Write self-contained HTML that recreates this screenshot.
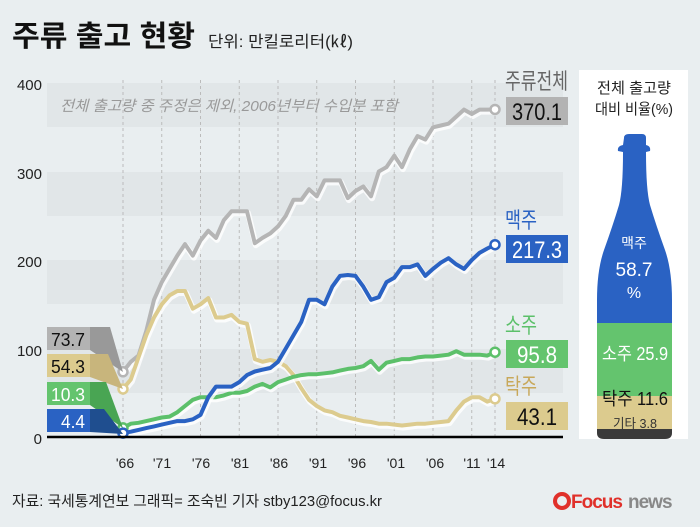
<!DOCTYPE html>
<html><head><meta charset="utf-8"><style>
body{margin:0;width:700px;height:527px;background:#e9eef0;overflow:hidden;font-family:"Liberation Sans","Noto Sans CJK KR",sans-serif;}
svg{position:absolute;left:0;top:0}
</style></head><body>
<svg id="s" width="700" height="527" xmlns="http://www.w3.org/2000/svg" font-family="Liberation Sans, Noto Sans CJK KR, sans-serif">
<text x="12" y="46" font-size="29" font-weight="bold" fill="#111" textLength="183" lengthAdjust="spacingAndGlyphs">주류 출고 현황</text>
<text x="208" y="47" font-size="16" fill="#222" textLength="145" lengthAdjust="spacingAndGlyphs">단위: 만킬로리터(㎘)</text>
<g fill="#e1e6e8">
<rect x="47" y="83" width="516" height="44"/>
<rect x="47" y="172" width="516" height="44"/>
<rect x="47" y="260" width="516" height="44"/>
<rect x="47" y="349" width="516" height="44"/>
</g>
<text x="60" y="111" font-size="15" font-style="italic" fill="#999" textLength="338" lengthAdjust="spacingAndGlyphs">전체 출고량 중 주정은 제외, 2006년부터 수입분 포함</text>
<g font-size="15" fill="#222" text-anchor="end">
<text x="42" y="90">400</text><text x="42" y="179">300</text><text x="42" y="267">200</text><text x="42" y="356">100</text><text x="42" y="444">0</text>
</g>
<g id="grid" stroke="#bbb" stroke-dasharray="3,3" stroke-width="1"></g>
<g id="lines"></g>
<line x1="47" y1="437" x2="563" y2="437" stroke="#000" stroke-width="2.5"/>
<g font-size="14" fill="#222" text-anchor="middle">
<text x="125" y="468">'66</text><text x="162" y="468">'71</text><text x="201" y="468">'76</text><text x="240" y="468">'81</text><text x="279" y="468">'86</text><text x="318" y="468">'91</text><text x="357" y="468">'96</text><text x="396" y="468">'01</text><text x="435" y="468">'06</text><text x="472" y="468">'11</text><text x="496" y="468">'14</text>
</g>
<polygon points="90,327 110,327 123,372 90,350" fill="#999"/>
<rect x="47" y="327" width="43" height="23" fill="#b3b3b3"/>
<text x="51" y="346" font-size="18" fill="#111" textLength="34" lengthAdjust="spacingAndGlyphs">73.7</text>
<polygon points="90,354 108,354 123,389 90,377" fill="#c8b57c"/>
<rect x="47" y="354" width="43" height="23" fill="#dccb8e"/>
<text x="51" y="373" font-size="18" fill="#111" textLength="34" lengthAdjust="spacingAndGlyphs">54.3</text>
<polygon points="90,382 106,382 123,428 90,405" fill="#49a553"/>
<rect x="47" y="382" width="43" height="23" fill="#64c46e"/>
<text x="51" y="401" font-size="18" fill="#fff" textLength="34" lengthAdjust="spacingAndGlyphs">10.3</text>
<polygon points="90,409 104,409 123,434 90,432" fill="#1f4e8f"/>
<rect x="47" y="409" width="43" height="23" fill="#2a62c3"/>
<text x="61" y="428" font-size="18" fill="#fff" textLength="24" lengthAdjust="spacingAndGlyphs">4.4</text>
<text x="505" y="89" font-size="22" fill="#666" textLength="63" lengthAdjust="spacingAndGlyphs">주류전체</text>
<rect x="506" y="97" width="62" height="28" fill="#b3b3b3"/>
<text x="537" y="120" font-size="24" fill="#111" text-anchor="middle" textLength="50" lengthAdjust="spacingAndGlyphs">370.1</text>
<text x="505" y="228" font-size="22" fill="#2a62c3" textLength="32" lengthAdjust="spacingAndGlyphs">맥주</text>
<rect x="506" y="235" width="62" height="28" fill="#2a62c3"/>
<text x="537" y="258" font-size="24" fill="#fff" text-anchor="middle" textLength="50" lengthAdjust="spacingAndGlyphs">217.3</text>
<text x="505" y="333" font-size="22" fill="#5cc06a" textLength="32" lengthAdjust="spacingAndGlyphs">소주</text>
<rect x="506" y="340" width="62" height="28" fill="#64c46e"/>
<text x="537" y="363" font-size="24" fill="#fff" text-anchor="middle" textLength="40" lengthAdjust="spacingAndGlyphs">95.8</text>
<text x="505" y="394" font-size="22" fill="#c8a85a" textLength="32" lengthAdjust="spacingAndGlyphs">탁주</text>
<rect x="506" y="402" width="62" height="28" fill="#dccb8e"/>
<text x="537" y="425" font-size="24" fill="#111" text-anchor="middle" textLength="40" lengthAdjust="spacingAndGlyphs">43.1</text>
<rect x="579" y="70" width="109" height="369" fill="#fff"/>
<text x="634" y="93" font-size="15" fill="#222" text-anchor="middle" textLength="74" lengthAdjust="spacingAndGlyphs">전체 출고량</text>
<text x="634" y="114" font-size="15" fill="#222" text-anchor="middle" textLength="78" lengthAdjust="spacingAndGlyphs">대비 비율(%)</text>
<clipPath id="bc"><path d="M624,138 Q624,134 629,134 L642,134 Q646,134 646,138 L646,145 Q651,146 650,151 L646,152 Q646,190 650,205 Q656,225 665,250 Q672,270 672,300 L672,433 Q672,439 665,439 L604,439 Q597,439 597,433 L597,300 Q597,270 604,250 Q613,225 619,205 Q623,190 623,152 L618,151 Q617,146 623,145 Z"/></clipPath>
<g clip-path="url(#bc)">
<rect x="590" y="125" width="90" height="198" fill="#2a62c3"/>
<rect x="590" y="323" width="90" height="73" fill="#64c46e"/>
<rect x="590" y="396" width="90" height="33" fill="#dccb8e"/>
<rect x="590" y="429" width="90" height="12" fill="#3a3a3a"/>
</g>
<g text-anchor="middle">
<text x="634" y="248" font-size="14" fill="#fff">맥주</text>
<text x="634" y="276" font-size="19" fill="#fff">58.7</text>
<text x="634" y="298" font-size="16" fill="#fff">%</text>
<text x="635" y="360" font-size="18" fill="#fff" textLength="66" lengthAdjust="spacingAndGlyphs">소주 25.9</text>
<text x="635" y="405" font-size="18" fill="#111" textLength="66" lengthAdjust="spacingAndGlyphs">탁주 11.6</text>
<text x="635" y="428" font-size="13" fill="#333" textLength="44" lengthAdjust="spacingAndGlyphs">기타 3.8</text>
</g>
<text x="12" y="506" font-size="15" fill="#222" textLength="370" lengthAdjust="spacingAndGlyphs">자료: 국세통계연보   그래픽= 조숙빈 기자 stby123@focus.kr</text>
<circle cx="562" cy="501" r="7" fill="none" stroke="#e0302a" stroke-width="4"/>
<text x="571" y="508" font-size="19" font-weight="bold" fill="#e0302a" letter-spacing="-1">Focus</text>
<text x="628" y="508" font-size="19" font-weight="bold" fill="#888" letter-spacing="-1">news</text>
</svg>
<script>
var X=function(y){return 123+7.75*(y-1966)},Y=function(v){return 437-0.885*v};
var g=document.getElementById('grid'),ns='http://www.w3.org/2000/svg';
[1966,1971,1976,1981,1986,1991,1996,2001,2006,2011,2014].forEach(function(y){var l=document.createElementNS(ns,'line');l.setAttribute('x1',X(y));l.setAttribute('x2',X(y));l.setAttribute('y1',80);l.setAttribute('y2',437);g.appendChild(l);});
var S=[
['#b5b5b5',[73.7,85,92,120,155,175,190,205,218,205,222,233,225,245,255,255,255,219,225,230,238,250,268,268,280,272,290,290,290,270,278,283,272,300,305,318,305,325,340,336,350,352,354,362,370,365,370,370,370.1]],
['#dccb8e',[54.3,65,90,115,135,150,160,165,165,145,150,157,135,135,138,130,128,88,85,87,85,80,70,55,42,35,30,28,24,22,20,18,17,15,15,14,13,14,15,15,16,17,18,30,40,45,45,40,43.1]],
['#5cc06a',[10.3,15,16,18,20,22,23,28,35,42,45,45,45,47,50,50,52,57,60,56,62,65,68,70,71,71,72,73,75,77,78,80,86,76,84,86,88,88,90,91,91,92,93,97,93,93,93,92,95.8]],
['#2a62c3',[4.4,6,8,10,12,14,16,18,18,20,25,45,57,57,57,62,70,74,76,78,85,100,115,130,155,155,150,170,182,183,182,170,155,158,175,180,192,192,195,182,190,197,202,195,190,200,208,213,217.3]]];
var L=document.getElementById('lines'),h='';
S.forEach(function(s){var p=s[1].map(function(v,i){return X(1966+i).toFixed(1)+','+Y(v).toFixed(1)}).join(' ');
h+='<polyline points="'+p+'" fill="none" stroke="#fff" stroke-opacity="0.8" stroke-width="6" stroke-linejoin="round" transform="translate(1,2)"/>';
h+='<polyline points="'+p+'" fill="none" stroke="'+s[0]+'" stroke-width="4" stroke-linejoin="round"/>';
[0,s[1].length-1].forEach(function(i){h+='<circle cx="'+X(1966+i)+'" cy="'+Y(s[1][i])+'" r="4.5" fill="#fff" stroke="'+s[0]+'" stroke-width="2.5"/>';});});
L.innerHTML=h;
</script>
</body></html>
